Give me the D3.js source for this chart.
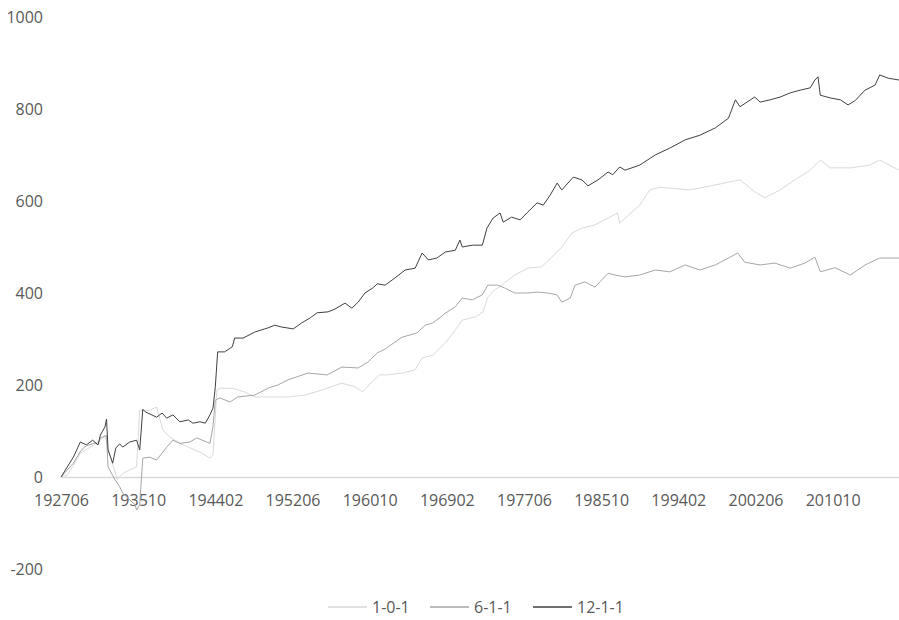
<!DOCTYPE html>
<html>
<head>
<meta charset="utf-8">
<script src="https://cdn.jsdelivr.net/npm/d3@7"></script>
<style>
  html, body { margin: 0; padding: 0; background: #ffffff; }
  svg { display: block; }
  .tick text, .legend text { font-family: "Open Sans", "Noto Sans", sans-serif; font-size: 16px; fill: #595959; }
</style>
</head>
<body>
<svg id="chart" width="899" height="620"></svg>
<script>
// Cumulative return series, monthly axis from 192706 to 201712
const firstMonth = "192706";
const lastMonth = "201712";
const yTicks = [-200, 0, 200, 400, 600, 800, 1000];
const seriesNames = ["1-0-1", "6-1-1", "12-1-1"];
const seriesColors = ["#d9d9d9", "#a6a6a6", "#404040"];

// 1-0-1
const dates101 = ["192706","192802","192810","192907","193008","193109","193203","193207","193307","193402","193411","193508","193512","193701","193710","193806","193903","194004","194103","194206","194307","194311","194404","194408","194512","194704","194805","194906","195112","195310","195508","195710","195903","196001","196101","196111","196210","196404","196509","196606","196708","196812","197001","197010","197203","197301","197307","197404","197502","197505","197606","197711","197905","198006","198107","198208","198309","198502","198607","198707","198710","198912","199101","199202","199505","199802","200010","200205","200306","200502","200609","200805","200906","201007","201209","201410","201511","201712"];
const values101 = [0,4,25,52,65,80,90,60,-6,8,15,22,145,145,152,102,87,73,65,54,41,48,189,193,193,185,174,174,174,178,189,204,196,185,207,222,222,226,233,259,265,291,320,341,348,359,391,407,417,422,439,454,457,478,500,530,541,548,563,574,552,591,624,630,624,635,646,620,607,624,646,667,689,672,672,678,689,667];

// 6-1-1
const dates611 = ["192706","192810","192907","192911","193003","193102","193106","193109","193205","193207","193304","193310","193402","193411","193506","193508","193512","193604","193701","193710","193811","193907","194004","194105","194202","194303","194307","194311","194402","194408","194509","194607","194805","194906","194910","195011","195112","195402","195603","195710","195907","196008","196108","196206","196210","196404","196511","196610","196708","196812","197001","197010","197111","197212","197307","197408","197505","197606","197711","197812","198001","198101","198107","198206","198212","198401","198502","198607","198704","198805","198912","199108","199303","199411","199606","199802","199907","200007","200104","200212","200407","200603","200710","200811","200906","201101","201209","201404","201511","201712"];
const values611 = [0,30,55,63,68,74,70,85,90,22,-6,-21,-35,-50,-60,-72,-60,41,43,37,65,80,73,76,85,76,73,110,167,172,163,174,178,189,193,200,211,226,222,239,237,250,270,278,283,304,313,330,335,356,370,389,385,396,417,417,411,400,400,402,400,396,380,389,417,424,413,443,439,435,439,450,446,461,450,461,476,487,467,461,465,454,465,478,446,455,439,461,476,476];

// 12-1-1
const dates1211 = ["192706","192810","192907","193003","193011","193106","193109","193203","193205","193207","193301","193305","193310","193402","193411","193508","193512","193604","193608","193710","193805","193811","193907","194004","194103","194109","194206","194301","194307","194311","194402","194405","194502","194512","194603","194702","194805","194906","194910","195007","195104","195207","195306","195405","195502","195604","195701","195802","195811","195907","196004","196102","196108","196206","196307","196408","196509","196606","196702","196801","196812","197001","197007","197010","197111","197212","197306","197402","197411","197503","197602","197701","197711","197811","197907","198004","198101","198107","198210","198309","198405","198506","198607","198701","198710","198805","198912","199108","199303","199411","199606","199802","199907","200004","200010","200205","200212","200401","200502","200603","200704","200805","200811","200903","200906","201007","201108","201206","201303","201404","201505","201511","201610","201712"];
const values1211 = [0,43,76,70,80,70,91,109,126,59,30,63,72,65,76,80,59,147,141,130,139,128,135,120,124,117,120,117,135,150,196,272,272,283,302,302,315,322,324,330,326,322,335,346,357,359,365,378,367,380,400,411,420,417,433,450,454,487,472,476,489,493,515,500,504,504,541,563,574,554,565,559,576,596,591,613,639,624,652,646,633,646,663,657,674,667,678,700,715,733,743,759,780,820,805,826,815,820,826,835,841,846,863,870,830,824,820,809,818,841,852,874,867,863];

// Monthly categories for the point scale
function buildMonths(start, end) {
  const out = [];
  let y = +start.slice(0, 4), m = +start.slice(4);
  const ey = +end.slice(0, 4), em = +end.slice(4);
  while (y < ey || (y === ey && m <= em)) {
    out.push(String(y) + String(m).padStart(2, "0"));
    m += 1;
    if (m > 12) { m = 1; y += 1; }
  }
  return out;
}
const months = buildMonths(firstMonth, lastMonth);
const labelEvery = 100;

const svg = d3.select("#chart");

const x = d3.scalePoint().domain(months).range([61, 899]);
const y = d3.scaleLinear().domain([-200, 1000]).range([569, 17]);

// Y axis labels only (plain hyphen for negatives)
const yAxis = svg.append("g")
  .attr("transform", "translate(61,0)")
  .call(d3.axisLeft(y).tickValues(yTicks).tickSize(0).tickPadding(18).tickFormat(d => String(d)));
yAxis.select(".domain").remove();

// Category axis along zero
const xAxis = svg.append("g")
  .attr("transform", `translate(0,${y(0)})`)
  .call(d3.axisBottom(x)
    .tickValues(months.filter((d, i) => i % labelEvery === 0))
    .tickSize(0).tickPadding(18));
xAxis.select(".domain").attr("stroke", "#d9d9d9").attr("stroke-width", 1.3);

const series = [
  { name: seriesNames[0], dates: dates101, values: values101, color: seriesColors[0] },
  { name: seriesNames[1], dates: dates611, values: values611, color: seriesColors[1] },
  { name: seriesNames[2], dates: dates1211, values: values1211, color: seriesColors[2] }
];

const line = d3.line()
  .x(d => x(d[0]))
  .y(d => y(d[1]));

svg.append("g").selectAll("path")
  .data(series)
  .join("path")
  .attr("fill", "none")
  .attr("stroke", d => d.color)
  .attr("stroke-width", 1)
  .attr("stroke-linejoin", "round")
  .attr("d", d => line(d.dates.map((m, i) => [m, d.values[i]])));

// Legend
const legend = svg.append("g").attr("class", "legend").attr("transform", "translate(0,607)");
const legendX = [328, 430, 533];
series.forEach((s, i) => {
  const g = legend.append("g").attr("transform", `translate(${legendX[i]},0)`);
  g.append("line").attr("x1", 0).attr("x2", 39).attr("y1", 0).attr("y2", 0)
    .attr("stroke", s.color).attr("stroke-width", 1.3);
  g.append("text").attr("x", 44).attr("dy", "0.35em").text(s.name);
});
</script>
</body>
</html>
